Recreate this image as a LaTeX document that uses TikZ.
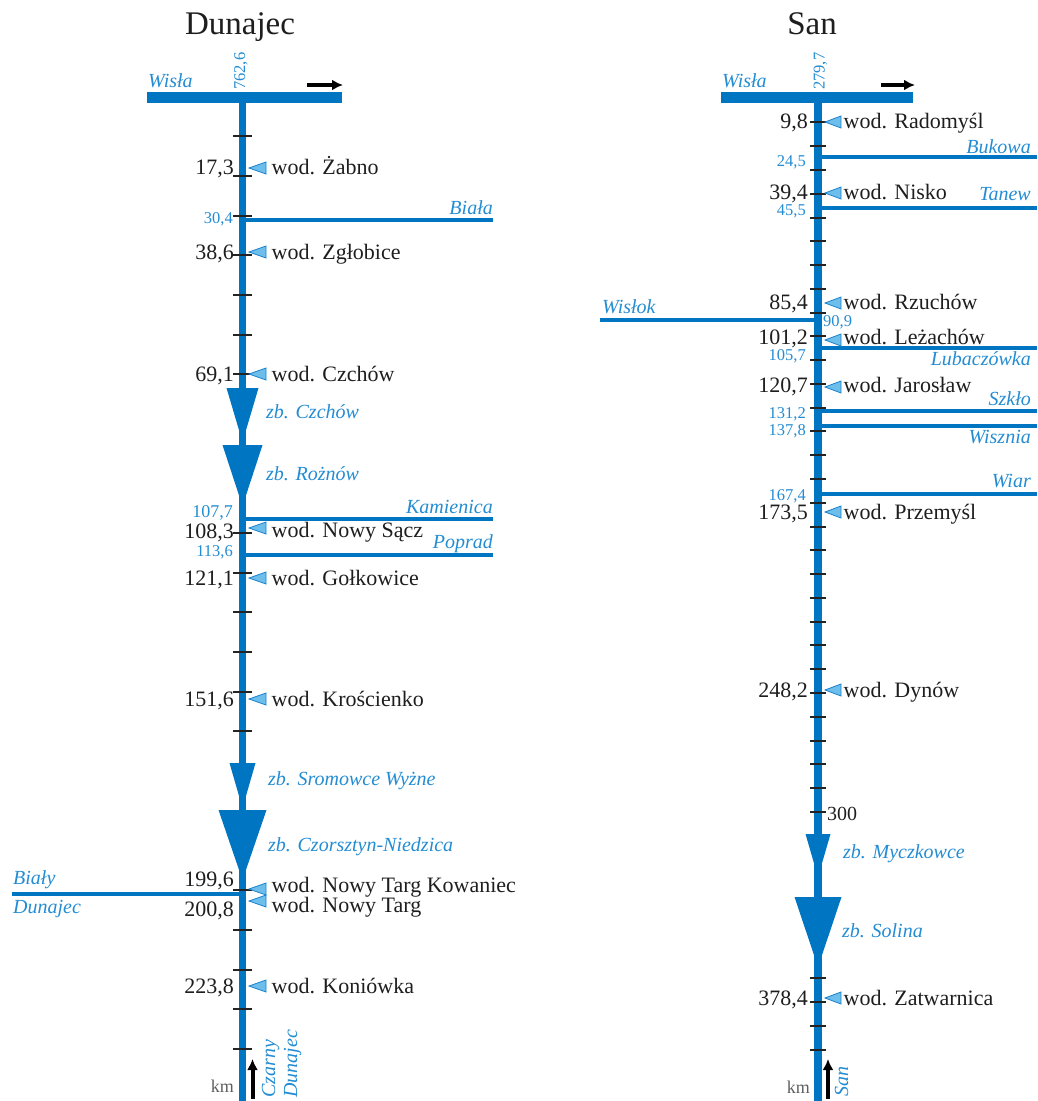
\documentclass[tikz,border=0pt]{standalone}
\usepackage{fontspec}
\setmainfont{Liberation Serif}
\usetikzlibrary{arrows.meta}
\definecolor{riv}{RGB}{0,118,195}
\definecolor{lbl}{RGB}{35,140,210}
\definecolor{gfill}{RGB}{110,190,235}
\definecolor{gedge}{RGB}{25,130,205}
\definecolor{tickc}{RGB}{35,35,35}
\definecolor{txt}{RGB}{30,30,30}
\definecolor{kmc}{RGB}{95,95,95}
\tikzset{
  river/.style={draw=riv, line width=7.5},
  trib/.style={draw=riv, line width=4.5},
  bar/.style={fill=riv},
  res/.style={fill=riv},
  tickmark/.style={draw=tickc, line width=2},
  gauge/.style={fill=gfill, draw=gedge, line width=0.8, line join=miter},
  kmlab/.style={anchor=base east, inner sep=0, text=txt, font=\fontsize{22}{24}\selectfont},
  gname/.style={anchor=base west, inner sep=0, text=txt, font=\fontsize{22}{24}\selectfont},
  bnum/.style={anchor=base east, inner sep=0, text=lbl, font=\fontsize{16.5}{18}\selectfont},
  rname/.style={inner sep=0, text=lbl, font=\itshape\fontsize{20}{22}\selectfont},
  ttl/.style={anchor=base, inner sep=0, text=txt, font=\fontsize{33}{36}\selectfont},
  kmword/.style={anchor=base east, inner sep=0, text=kmc, font=\fontsize{18}{20}\selectfont},
  flowarrow/.style={draw=black, line width=4, -{Latex[length=11,width=11]}},
}
\newcommand\gaugeD[6]{%
  \draw[gauge] (266,#2-6) -- (249,#2) -- (266,#2+6) -- cycle;
  \node[kmlab] (#1k) at (234,#3) {#5};
  \node[gname] (#1n) at (271.5,#4) {#6};
}
\newcommand\gaugeS[6]{%
  \draw[gauge] (841,#2-6) -- (825,#2) -- (841,#2+6) -- cycle;
  \node[kmlab] (#1k) at (808,#3) {#5};
  \node[gname] (#1n) at (843.5,#4) {#6};
}
\begin{document}
\begin{tikzpicture}[x=1pt,y=-1pt]
\useasboundingbox (0,0) rectangle (1037,1101);
% ================= DUNAJEC =================
\node[ttl] (tD) at (240,34) {Dunajec};
\fill[bar] (147,92) rectangle (342,103);
\coordinate (Dtop) at (242.5,97);
\coordinate (Dbot) at (242.5,1101);
\draw[river] (Dtop) -- (Dbot);
% tributaries
\coordinate (bialaR) at (493,220);
\draw[trib] (242.5,220) -- (bialaR);
\coordinate (kamR) at (493,519);
\draw[trib] (242.5,519) -- (kamR);
\coordinate (popR) at (493,555);
\draw[trib] (242.5,555) -- (popR);
\coordinate (bdL) at (12,894);
\draw[trib] (bdL) -- (242.5,894);
% reservoirs
\fill[res] (226.5,388) -- (258.5,388) -- (242.5,442) -- cycle;
\fill[res] (222.5,445) -- (262.5,445) -- (242.5,506) -- cycle;
\fill[res] (229.5,763) -- (255.5,763) -- (242.5,808) -- cycle;
\fill[res] (218.5,810) -- (266.5,810) -- (242.5,880) -- cycle;
% ticks
\foreach \k in {1,...,7,11,12,13,14,15,16,20,21,22,23,24}
  \draw[tickmark] (233,{96.6+39.68*\k}) -- (252,{96.6+39.68*\k});
% gauges
\gaugeD{g1}{168}{174}{174}{17,3}{wod. Żabno}
\gaugeD{g2}{252}{259}{259}{38,6}{wod. Zgłobice}
\gaugeD{g3}{374}{381}{381}{69,1}{wod. Czchów}
\gaugeD{g4}{528}{538}{537}{108,3}{wod. Nowy Sącz}
\gaugeD{g5}{578}{585}{585}{121,1}{wod. Gołkowice}
\gaugeD{g6}{699}{706}{706}{151,6}{wod. Krościenko}
\gaugeD{g7}{889}{886}{892}{199,6}{wod. Nowy Targ Kowaniec}
\gaugeD{g8}{901}{916}{912}{200,8}{wod. Nowy Targ}
\gaugeD{g9}{986}{993}{993}{223,8}{wod. Koniówka}
% tributary labels
\node[rname, anchor=base east] (nBiala) at (493,214) {Biała};
\node[bnum] (kBiala) at (233,223) {30,4};
\node[rname, anchor=base east] (nKam) at (493,513) {Kamienica};
\node[bnum, font=\fontsize{18}{20}\selectfont] (kKam) at (233,517) {107,7};
\node[rname, anchor=base east] (nPop) at (493,548) {Poprad};
\node[bnum] (kPop) at (233,556) {113,6};
\node[rname, anchor=base west] (nBialy) at (13,884) {Biały};
\node[rname, anchor=base west] (nBialy2) at (13,913) {Dunajec};
% reservoir labels
\node[rname, anchor=base west] (zCz) at (266,418) {zb. Czchów};
\node[rname, anchor=base west] (zRo) at (266,480) {zb. Rożnów};
\node[rname, anchor=base west] (zSr) at (268,785) {zb. Sromowce Wyżne};
\node[rname, anchor=base west] (zCN) at (268,851) {zb. Czorsztyn-Niedzica};
% top
\node[rname, anchor=base west] (wD) at (148,87) {Wisła};
\node[bnum, anchor=base west, rotate=90] (mD) at (245,90) {762,6};
\coordinate (aD1) at (307,85);
\coordinate (aD2) at (343,85);
\draw[flowarrow] (aD1) -- (aD2);
% bottom
\node[kmword] (kmD) at (234,1092) {km};
\coordinate (bD1) at (252.5,1099);
\coordinate (bD2) at (252.5,1059);
\draw[flowarrow] (bD1) -- (bD2);
\node[rname, anchor=base west, rotate=90] (czD) at (275,1098) {Czarny};
\node[rname, anchor=base west, rotate=90] (czD2) at (297,1098) {Dunajec};
% ================= SAN =================
\node[ttl] (tS) at (812,34) {San};
\fill[bar] (721,92) rectangle (913,103);
\coordinate (Stop) at (818,97);
\coordinate (Sbot) at (818,1101);
\draw[river] (Stop) -- (Sbot);
% tributaries
\foreach \yy in {157,208,348,411,426,494}
  \draw[trib] (818,\yy) -- (1037,\yy);
\coordinate (wislokL) at (600,320);
\draw[trib] (wislokL) -- (818,320);
% reservoirs
\fill[res] (805.5,834) -- (830.5,834) -- (818,877) -- cycle;
\fill[res] (794.5,897) -- (841.5,897) -- (818,967) -- cycle;
% ticks
\foreach \k in {1,...,30,37,38,39,40}
  \draw[tickmark] (810,{98.7+23.77*\k}) -- (826,{98.7+23.77*\k});
% gauges
\gaugeS{s1}{122}{128}{128}{9,8}{wod. Radomyśl}
\gaugeS{s2}{193}{199}{199}{39,4}{wod. Nisko}
\gaugeS{s3}{303}{309}{309}{85,4}{wod. Rzuchów}
\gaugeS{s4}{340}{344}{344}{101,2}{wod. Leżachów}
\gaugeS{s5}{387}{392}{392}{120,7}{wod. Jarosław}
\gaugeS{s6}{512}{519}{519}{173,5}{wod. Przemyśl}
\gaugeS{s7}{690}{697}{697}{248,2}{wod. Dynów}
\gaugeS{s8}{998}{1005}{1005}{378,4}{wod. Zatwarnica}
% tributary labels
\node[rname, anchor=base east] (nBuk) at (1031,153) {Bukowa};
\node[bnum] (kBuk) at (806,166) {24,5};
\node[rname, anchor=base east] (nTan) at (1031,200) {Tanew};
\node[bnum] (kTan) at (806,215) {45,5};
\node[rname, anchor=base west] (nWis) at (602,313) {Wisłok};
\node[bnum, anchor=base west] (kWis) at (823,326) {90,9};
\node[rname, anchor=base east] (nLub) at (1031,365) {Lubaczówka};
\node[bnum] (kLub) at (806,360) {105,7};
\node[rname, anchor=base east] (nSzk) at (1031,405) {Szkło};
\node[bnum] (kSzk) at (806,418) {131,2};
\node[rname, anchor=base east] (nWsz) at (1031,443) {Wisznia};
\node[bnum] (kWsz) at (806,435) {137,8};
\node[rname, anchor=base east] (nWiar) at (1031,487) {Wiar};
\node[bnum] (kWiar) at (806,500) {167,4};
\node[gname, font=\fontsize{20}{22}\selectfont] (k300) at (827,820) {300};
% reservoir labels
\node[rname, anchor=base west] (zMy) at (843,858) {zb. Myczkowce};
\node[rname, anchor=base west] (zSo) at (842,937) {zb. Solina};
% top
\node[rname, anchor=base west] (wS) at (722,87) {Wisła};
\node[bnum, anchor=base west, rotate=90] (mS) at (824.5,90) {279,7};
\coordinate (aS1) at (881,85);
\coordinate (aS2) at (915,85);
\draw[flowarrow] (aS1) -- (aS2);
% bottom
\node[kmword] (kmS) at (810,1093) {km};
\coordinate (bS1) at (828,1099);
\coordinate (bS2) at (828,1059);
\draw[flowarrow] (bS1) -- (bS2);
\node[rname, anchor=base west, rotate=90] (sanB) at (848,1097) {San};
\end{tikzpicture}
\end{document}
